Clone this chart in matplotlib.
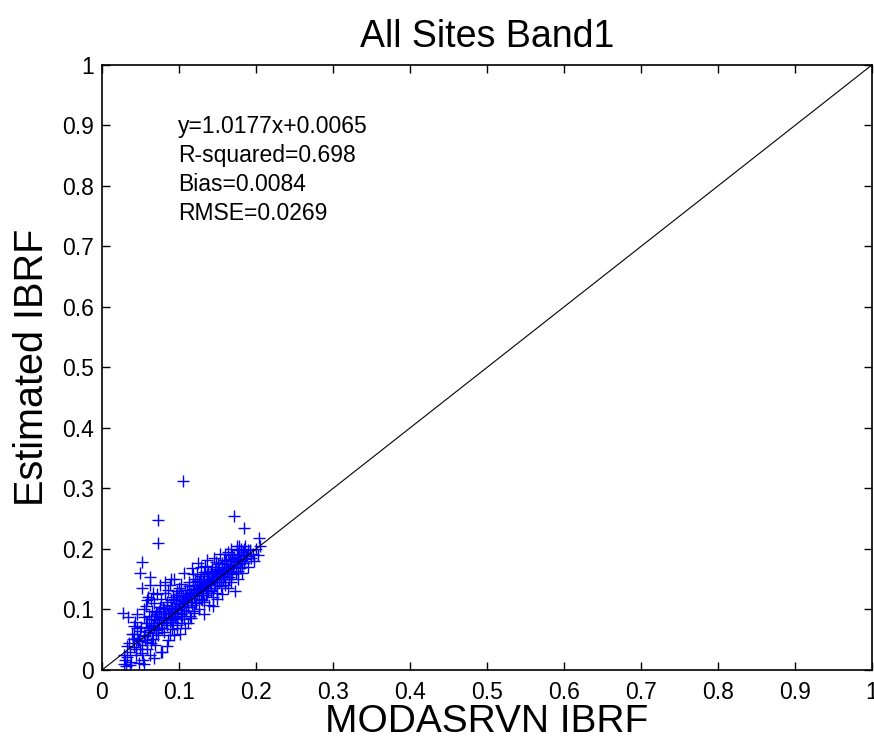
import matplotlib
matplotlib.use('Agg')
import matplotlib.pyplot as plt

plt.rcParams['font.family'] = ['Liberation Sans', 'DejaVu Sans']

# MODIS ASRVN IBRF (x) vs estimated IBRF (y), all sites, band 1
modasrvn = [
    0.027, 0.034, 0.030, 0.028, 0.033, 0.031, 0.036, 0.038, 0.035, 0.040, 0.042, 0.039, 0.044, 0.046,
    0.043, 0.048, 0.047, 0.045, 0.050, 0.049, 0.041, 0.037, 0.029, 0.032, 0.053, 0.055, 0.052,
    0.052, 0.049, 0.062, 0.062, 0.052, 0.073, 0.073, 0.056, 0.058, 0.057, 0.060, 0.061, 0.059, 0.063,
    0.064, 0.066, 0.065, 0.067, 0.068, 0.070, 0.069, 0.071, 0.072, 0.074, 0.073, 0.075, 0.076, 0.078,
    0.077, 0.079, 0.054, 0.055, 0.058, 0.060, 0.066, 0.062, 0.068, 0.064, 0.070, 0.075, 0.078,
    0.080, 0.081, 0.082, 0.083, 0.084, 0.085, 0.086, 0.087, 0.088, 0.089, 0.090, 0.091, 0.092, 0.093,
    0.094, 0.095, 0.096, 0.097, 0.098, 0.099, 0.100, 0.101, 0.102, 0.103, 0.104, 0.105, 0.106, 0.107,
    0.108, 0.109, 0.110, 0.105, 0.082, 0.086, 0.090, 0.094, 0.098, 0.102, 0.108, 0.084, 0.088, 0.096,
    0.100, 0.104, 0.092, 0.097,
    0.111, 0.112, 0.113, 0.114, 0.115, 0.116, 0.117, 0.118, 0.119, 0.120, 0.121, 0.122, 0.123, 0.124,
    0.125, 0.126, 0.127, 0.128, 0.129, 0.130, 0.131, 0.132, 0.133, 0.134, 0.135, 0.136, 0.137, 0.138,
    0.139, 0.140, 0.112, 0.116, 0.120, 0.124, 0.128, 0.132, 0.118, 0.122, 0.126, 0.130, 0.134, 0.138,
    0.141, 0.142, 0.143, 0.144, 0.145, 0.146, 0.147, 0.148, 0.149, 0.150, 0.151, 0.152, 0.153, 0.154,
    0.155, 0.156, 0.157, 0.158, 0.159, 0.160, 0.161, 0.162, 0.163, 0.164, 0.165, 0.166, 0.167, 0.168,
    0.169, 0.170, 0.144, 0.150, 0.156, 0.160, 0.148, 0.164, 0.142, 0.152, 0.158,
    0.171, 0.184, 0.204, 0.205, 0.173, 0.172, 0.174, 0.175, 0.176, 0.177, 0.178, 0.179, 0.180, 0.181,
    0.182, 0.183, 0.185, 0.186, 0.188, 0.190, 0.192, 0.194, 0.196, 0.198, 0.200, 0.202, 0.175, 0.178,
    0.185, 0.168,
    # dense core along the 1:1 line
    0.042, 0.046, 0.051, 0.054, 0.057, 0.061, 0.063, 0.066, 0.069, 0.072, 0.074, 0.077, 0.079, 0.082,
    0.084, 0.087, 0.089, 0.091, 0.093, 0.096, 0.098, 0.101, 0.103, 0.106, 0.108, 0.111, 0.113, 0.115,
    0.118, 0.120, 0.123, 0.125, 0.127, 0.130, 0.132, 0.135, 0.137, 0.139, 0.142, 0.144, 0.147, 0.149,
    0.151, 0.154, 0.156, 0.159, 0.161, 0.163, 0.166, 0.168, 0.171, 0.174, 0.177, 0.180, 0.183, 0.187,
    0.190,
    0.044, 0.048, 0.052, 0.056, 0.059, 0.062, 0.065, 0.067, 0.070, 0.073, 0.076, 0.078, 0.081, 0.083,
    0.086, 0.088, 0.090, 0.092, 0.095, 0.097, 0.100, 0.102, 0.105, 0.107, 0.109, 0.112, 0.114, 0.117,
    0.119, 0.121, 0.124, 0.126, 0.129, 0.131, 0.133, 0.136, 0.138, 0.141, 0.143, 0.145, 0.148, 0.150,
    0.153, 0.155, 0.157, 0.160, 0.162, 0.165, 0.167, 0.169, 0.172, 0.176, 0.179, 0.182, 0.186,
]
estimated = [
    0.094, 0.088, 0.017, 0.010, 0.022, 0.006, 0.030, 0.014, 0.045, 0.052, 0.038, 0.060, 0.025, 0.070,
    0.080, 0.012, 0.048, 0.092, 0.065, 0.034, 0.072, 0.008, 0.025, 0.040, 0.017, 0.010, 0.028,
    0.178, 0.160, 0.154, 0.140, 0.135, 0.248, 0.210, 0.050, 0.078, 0.105, 0.062, 0.090, 0.035, 0.118,
    0.072, 0.052, 0.098, 0.084, 0.110, 0.066, 0.042, 0.125, 0.092, 0.078, 0.058, 0.104, 0.030, 0.030,
    0.118, 0.086, 0.088, 0.100, 0.115, 0.120, 0.128, 0.025, 0.020, 0.044, 0.096, 0.140, 0.070,
    0.100, 0.062, 0.128, 0.088, 0.075, 0.112, 0.050, 0.094, 0.140, 0.082, 0.106, 0.068, 0.120, 0.096,
    0.150, 0.086, 0.110, 0.074, 0.130, 0.100, 0.115, 0.060, 0.092, 0.142, 0.105, 0.122, 0.084, 0.160,
    0.112, 0.098, 0.132, 0.312, 0.145, 0.132, 0.150, 0.058, 0.070, 0.078, 0.070, 0.040, 0.058, 0.124,
    0.136, 0.090, 0.080, 0.088,
    0.118, 0.104, 0.145, 0.090, 0.128, 0.112, 0.168, 0.134, 0.098, 0.122, 0.150, 0.110, 0.140, 0.128,
    0.176, 0.100, 0.136, 0.118, 0.155, 0.130, 0.145, 0.112, 0.162, 0.138, 0.124, 0.182, 0.150, 0.130,
    0.108, 0.144, 0.078, 0.086, 0.095, 0.158, 0.170, 0.092, 0.158, 0.132, 0.145, 0.115, 0.172, 0.160,
    0.158, 0.132, 0.170, 0.120, 0.150, 0.185, 0.140, 0.162, 0.128, 0.155, 0.175, 0.145, 0.192, 0.160,
    0.138, 0.170, 0.150, 0.182, 0.165, 0.140, 0.175, 0.158, 0.195, 0.168, 0.150, 0.180, 0.162, 0.145,
    0.190, 0.172, 0.105, 0.118, 0.125, 0.192, 0.178, 0.135, 0.148, 0.165, 0.155,
    0.255, 0.235, 0.218, 0.205, 0.130, 0.185, 0.160, 0.198, 0.175, 0.150, 0.190, 0.168, 0.200, 0.182,
    0.160, 0.195, 0.176, 0.205, 0.188, 0.170, 0.198, 0.185, 0.192, 0.180, 0.200, 0.190, 0.205, 0.205,
    0.200, 0.200,
    # dense core along the 1:1 line
    0.060, 0.053, 0.071, 0.058, 0.077, 0.069, 0.084, 0.074, 0.090, 0.083, 0.097, 0.088, 0.102, 0.092,
    0.108, 0.097, 0.115, 0.101, 0.118, 0.106, 0.124, 0.109, 0.128, 0.116, 0.133, 0.119, 0.138, 0.124,
    0.141, 0.129, 0.147, 0.133, 0.150, 0.138, 0.155, 0.142, 0.159, 0.147, 0.163, 0.151, 0.167, 0.156,
    0.171, 0.160, 0.176, 0.164, 0.180, 0.168, 0.184, 0.173, 0.187, 0.178, 0.192, 0.183, 0.195, 0.189,
    0.198,
    0.035, 0.049, 0.041, 0.056, 0.047, 0.066, 0.052, 0.071, 0.061, 0.068, 0.080, 0.070, 0.086, 0.077,
    0.092, 0.080, 0.098, 0.085, 0.103, 0.090, 0.110, 0.094, 0.114, 0.099, 0.120, 0.104, 0.125, 0.108,
    0.129, 0.113, 0.134, 0.118, 0.137, 0.124, 0.140, 0.127, 0.146, 0.131, 0.150, 0.136, 0.154, 0.140,
    0.158, 0.145, 0.161, 0.150, 0.166, 0.153, 0.171, 0.158, 0.175, 0.163, 0.180, 0.170, 0.184,
]

stats_lines = ['y=1.0177x+0.0065', 'R-squared=0.698', 'Bias=0.0084', 'RMSE=0.0269']
ticks = [0, 0.1, 0.2, 0.3, 0.4, 0.5, 0.6, 0.7, 0.8, 0.9, 1]
tick_labels = ['0', '0.1', '0.2', '0.3', '0.4', '0.5', '0.6', '0.7', '0.8', '0.9', '1']

fig = plt.figure(figsize=(8.74, 7.47), dpi=100)
ax = fig.add_axes([0.1167, 0.1031, 0.881, 0.810])

ax.plot(modasrvn, estimated, '+', color='#0000ff', markersize=8, markeredgewidth=1.0)
ax.plot([0, 1], [0, 1], color='black', linewidth=0.8)

ax.set_xlim(0, 1)
ax.set_ylim(0, 1)
ax.set_xticks(ticks)
ax.set_xticklabels(tick_labels)
ax.set_yticks(ticks)
ax.set_yticklabels(tick_labels)
ax.tick_params(direction='in', top=True, right=True, length=6, width=1, labelsize=16.5)
ax.tick_params(axis='x', pad=8)
ax.tick_params(axis='y', pad=6)
for s in ax.spines.values():
    s.set_linewidth(1.2)

for i, line in enumerate(stats_lines):
    ax.text(0.099, 0.898 - i * 0.048, line, fontsize=16.5, va='center', ha='left')

ax.set_title('All Sites Band1', fontsize=27, pad=13)
ax.set_xlabel('MODASRVN IBRF', fontsize=28, labelpad=0)
ax.set_ylabel('Estimated IBRF', fontsize=28.5, labelpad=8)

fig.savefig('out.png', dpi=100)
